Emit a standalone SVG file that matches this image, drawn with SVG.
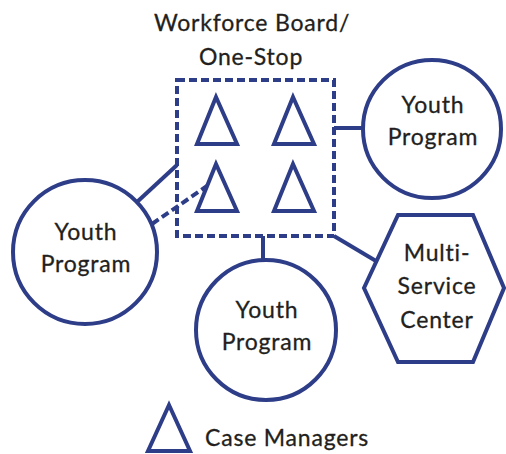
<svg xmlns="http://www.w3.org/2000/svg" width="506" height="454" viewBox="0 0 506 454">
<style>
.s{fill:#fff;stroke:#2e3d88;stroke-width:4}
.t{fill:none;stroke:#2e3d88;stroke-width:4;stroke-linejoin:miter}
.c{stroke:#2e3d88;stroke-width:4;fill:none}
.d{stroke-dasharray:8 4}
text{font-family:Lato,"Noto Sans",sans-serif;font-size:23px;letter-spacing:0.8px;fill:#231f20;text-anchor:middle;stroke:#231f20;stroke-width:0.3px}
</style>
<rect width="506" height="454" fill="#fff"/>
<g id="connectors">
<line class="c" x1="334" y1="128" x2="363" y2="128"/>
<line class="c" x1="137" y1="202" x2="177" y2="165"/>
<line class="c d" x1="152" y1="224" x2="207" y2="186"/>
<line class="c" x1="263" y1="236" x2="263" y2="259"/>
<line class="c" x1="334" y1="236" x2="376" y2="261"/>
</g>
<g id="one-stop">
<text x="252" y="31">Workforce Board/</text>
<text x="251" y="65">One-Stop</text>
<rect class="c d" x="177" y="80" width="157" height="156"/>
<polygon class="t" points="216,97 197,144 237,144"/>
<polygon class="t" points="293,97 274,144 314,144"/>
<polygon class="t" points="216,164 197,211 237,211"/>
<polygon class="t" points="293,164 274,211 314,211"/>
</g>
<g id="youth-right">
<circle class="s" cx="432" cy="129" r="69"/>
<text x="433" y="113">Youth</text>
<text x="433" y="145">Program</text>
</g>
<g id="youth-left">
<circle class="s" cx="85" cy="252" r="72"/>
<text x="86" y="240">Youth</text>
<text x="86" y="272">Program</text>
</g>
<g id="youth-bottom">
<circle class="s" cx="266" cy="330" r="70"/>
<text x="267" y="318">Youth</text>
<text x="267" y="350">Program</text>
</g>
<g id="multi-service">
<polygon class="s" points="398,215 473,215 504,288 473,362 398,362 364,288"/>
<text x="437" y="261">Multi-</text>
<text x="437" y="294">Service</text>
<text x="437" y="328">Center</text>
</g>
<g id="legend">
<polygon class="t" points="169,405 148,451 190,451"/>
<text x="205" y="446" style="text-anchor:start">Case Managers</text>
</g>
</svg>
